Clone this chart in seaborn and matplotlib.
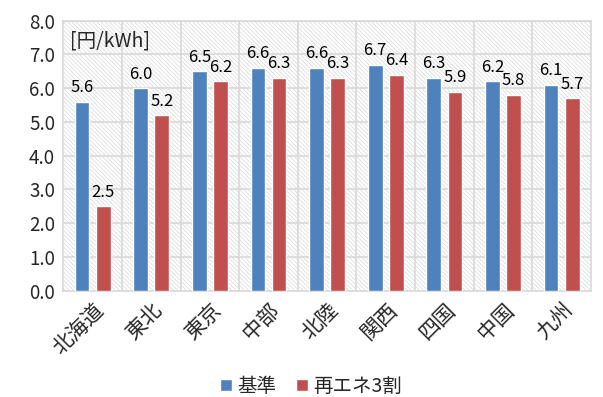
import numpy as np
import pandas as pd
import matplotlib
matplotlib.use("Agg")
from matplotlib import pyplot as plt
from matplotlib.patches import Rectangle
import seaborn as sns

regions = ["北海道", "東北", "東京", "中部", "北陸", "関西", "四国", "中国", "九州"]
base = [5.6, 6.0, 6.5, 6.6, 6.6, 6.7, 6.3, 6.2, 6.1]
renew30 = [2.5, 5.2, 6.2, 6.3, 6.3, 6.4, 5.9, 5.8, 5.7]
series = ["基準", "再エネ3割"]

df = pd.DataFrame({
    "region": regions * 2,
    "cost": base + renew30,
    "case": [series[0]] * len(regions) + [series[1]] * len(regions),
})

sns.set_style("white")
plt.rcParams['font.family'] = ['Noto Sans CJK JP', 'DejaVu Sans']
plt.rcParams['hatch.linewidth'] = 0.6

fig = plt.figure(figsize=(6.03, 3.97), dpi=100)
ax = fig.add_axes([0.105, 0.268, 0.875, 0.68])

# hatched plot-area background
bg = Rectangle((0, 0), 1, 1, transform=ax.transAxes, facecolor="white",
               edgecolor="#dddddd", hatch="\\" * 8, linewidth=0, zorder=0)
ax.add_patch(bg)

sns.barplot(data=df, x="region", y="cost", hue="case", order=regions,
            hue_order=series, palette=["#4F81BD", "#C0504D"], saturation=1,
            width=0.72, gap=0.3, ax=ax, zorder=3, legend=True)

for cont in ax.containers:
    ax.bar_label(cont, fmt="%.1f", padding=4, fontsize=12, color="#000000")

ax.set_ylim(0, 8)
ax.set_yticks(np.arange(0, 8.01, 1.0))
ax.set_yticklabels([f"{v:.1f}" for v in np.arange(0, 8.01, 1.0)], fontsize=13.5)
ax.set_xlim(-0.5, len(regions) - 0.5)
ax.set_xticks(range(len(regions)))
ax.set_xticklabels(regions, rotation=45, ha="right", rotation_mode="anchor", fontsize=15)
ax.tick_params(axis="both", length=0, pad=6)

# gridlines: horizontal at each unit, vertical between categories
for y in np.arange(1, 8.01, 1.0):
    ax.axhline(y, color="#d9d9d9", linewidth=1.2, zorder=1)
for x in np.arange(0.5, len(regions) - 0.5, 1.0):
    ax.axvline(x, color="#d9d9d9", linewidth=1.2, zorder=1)
for side in ax.spines.values():
    side.set_color("#d9d9d9")
    side.set_linewidth(1.2)

ax.set_xlabel("")
ax.set_ylabel("")
ax.text(0.012, 0.965, "[円/kWh]", transform=ax.transAxes, fontsize=14,
        va="top", ha="left", zorder=4)

ax.legend(loc="upper center", bbox_to_anchor=(0.47, -0.25), ncol=2, frameon=False,
          fontsize=14, handlelength=0.6, handleheight=0.6, handletextpad=0.3,
          columnspacing=1.0)

fig.savefig("out.png", dpi=100)
